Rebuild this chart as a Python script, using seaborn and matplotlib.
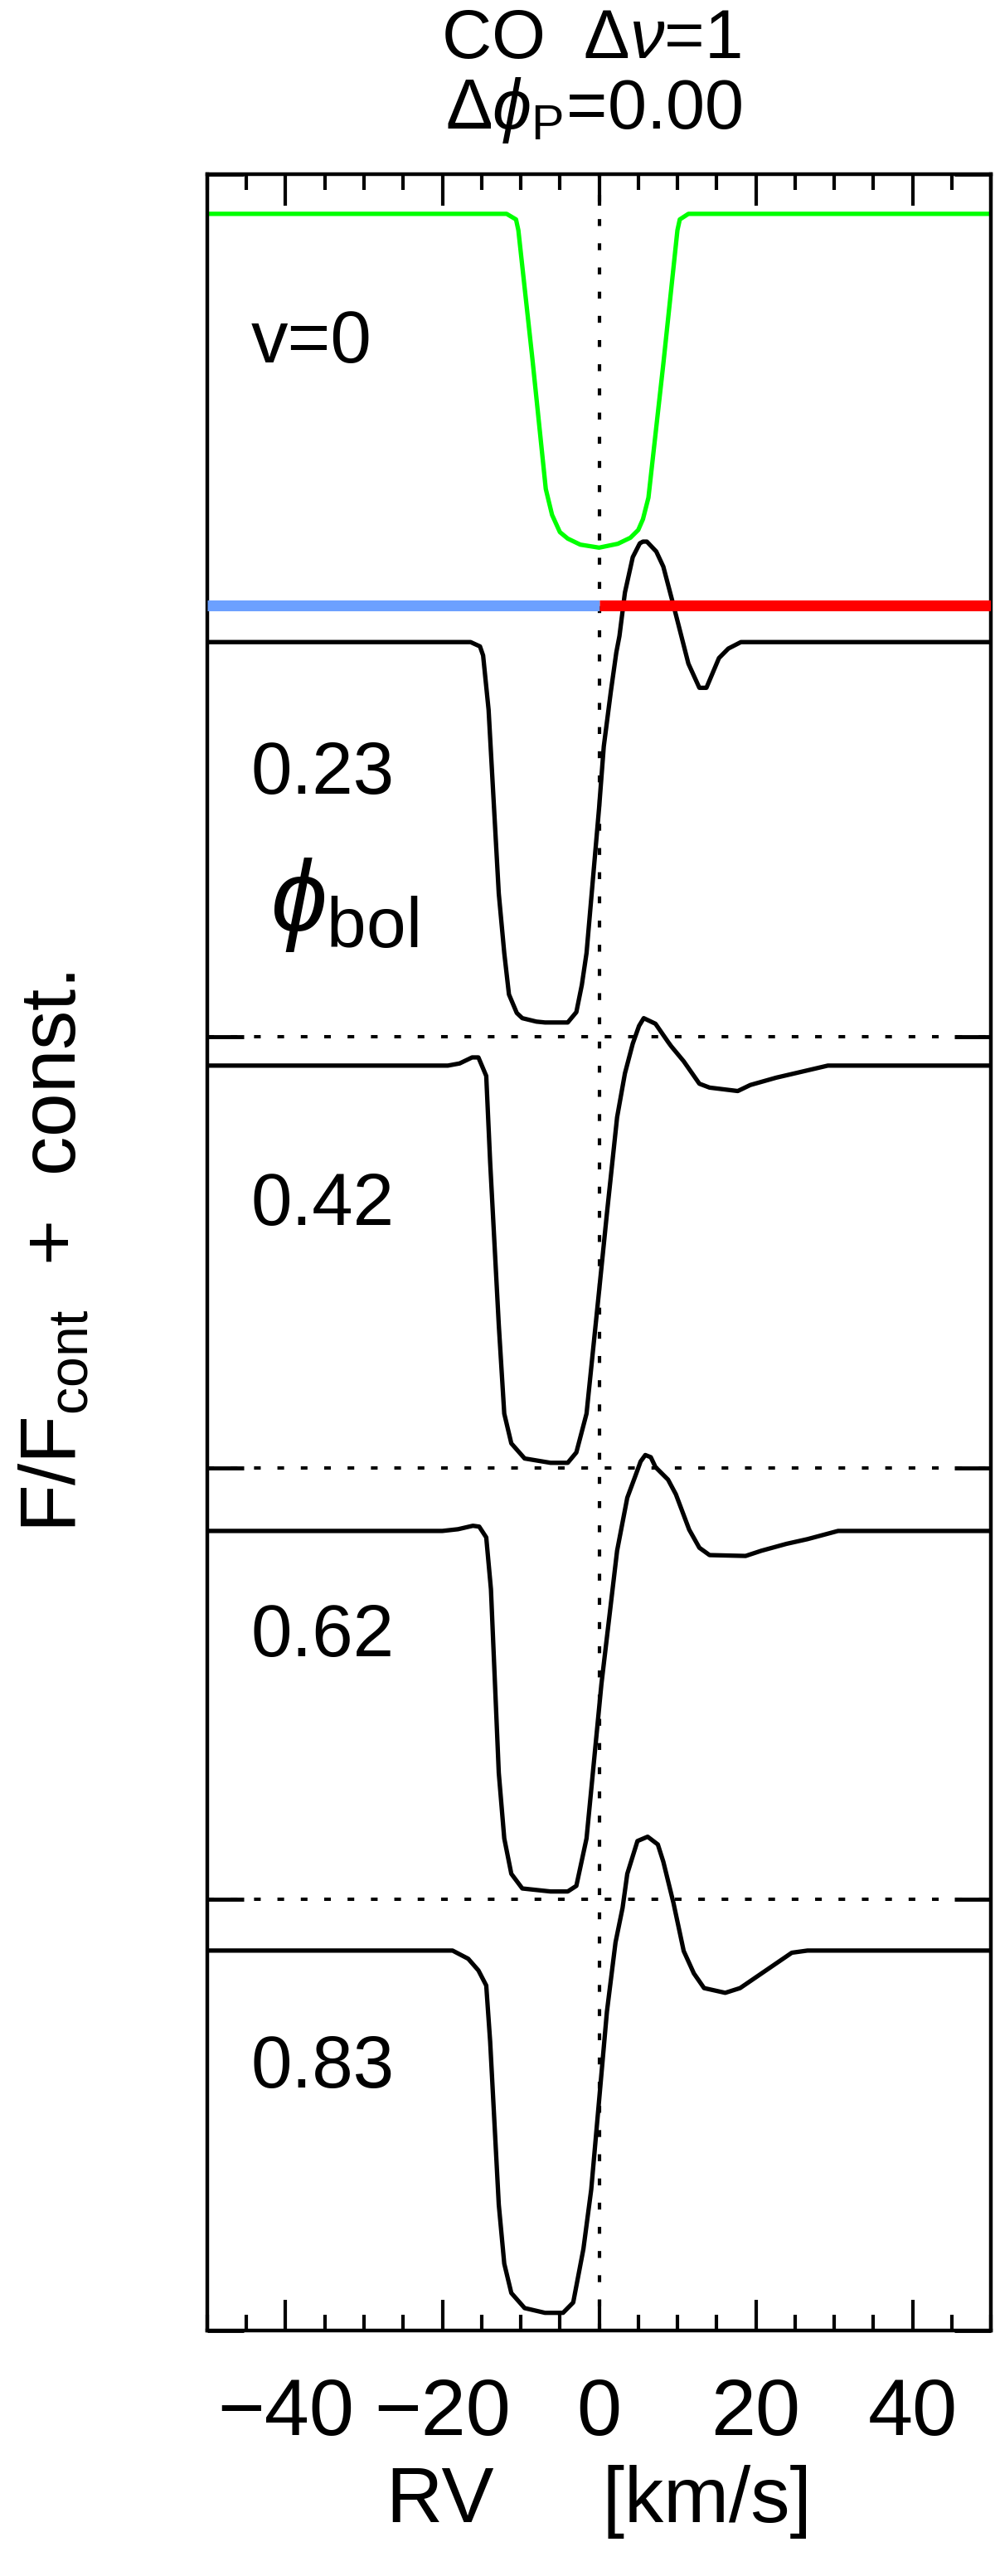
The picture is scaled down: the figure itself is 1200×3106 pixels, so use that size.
import matplotlib
matplotlib.use("Agg")
import matplotlib.pyplot as plt
from matplotlib.ticker import MultipleLocator
import seaborn as sns
import pandas as pd

# values: RV [km/s] and F/Fcont + const.
rv_v0 = [-50, -11.8, -10.6, -10.3, -8.5, -6.8, -6.0, -5.0, -4.0, -2.4, 0.0,
         2.4, 4.0, 5.0, 5.6, 6.3, 8.2, 10.0, 10.3, 11.4, 50]
fl_v0 = [4.908, 4.908, 4.895, 4.870, 4.570, 4.270, 4.210, 4.170, 4.155, 4.141, 4.134,
         4.143, 4.157, 4.175, 4.200, 4.250, 4.560, 4.870, 4.895, 4.908, 4.908]

rv_023 = [-50, -16.4, -15.2, -14.8, -14.1, -12.8, -12.1, -11.5, -10.5, -9.8, -8.0,
          -6.9, -4.0, -2.9, -2.2, -1.6, 0.0, 0.6, 1.5, 2.2, 2.6, 3.3, 4.3, 5.2,
          5.6, 6.1, 7.3, 8.2, 9.6, 11.4, 12.8, 13.7, 15.3, 16.5, 18.1, 50]
fl_023 = [3.915, 3.915, 3.905, 3.884, 3.758, 3.332, 3.194, 3.098, 3.055, 3.043, 3.035,
          3.033, 3.033, 3.057, 3.120, 3.194, 3.530, 3.673, 3.800, 3.891, 3.929, 4.030, 4.112, 4.144,
          4.148, 4.148, 4.125, 4.090, 3.993, 3.865, 3.809, 3.809, 3.878, 3.900, 3.915, 3.915]

rv_042 = [-50, -19.3, -17.8, -16.2, -15.4, -14.4, -13.9, -12.8, -12.1, -11.2, -9.5,
          -6.2, -4.0, -2.9, -1.6, 0.0, 1.0, 2.3, 3.3, 4.3, 5.1, 5.7, 7.2, 8.8, 9.2,
          10.8, 12.8, 14.1, 17.7, 19.3, 22.6, 25.2, 29.2, 50]
fl_042 = [2.933, 2.933, 2.938, 2.952, 2.952, 2.909, 2.709, 2.332, 2.126, 2.057, 2.022,
          2.012, 2.012, 2.036, 2.126, 2.410, 2.590, 2.813, 2.915, 2.984, 3.025, 3.043, 3.030, 2.988, 2.978,
          2.943, 2.891, 2.882, 2.874, 2.888, 2.905, 2.916, 2.933, 2.933]

rv_062 = [-50, -20.0, -18.0, -16.1, -15.3, -14.4, -13.8, -12.8, -12.1, -11.2, -9.8,
          -6.2, -4.0, -2.9, -1.6, 0.3, 2.3, 3.6, 4.6, 5.3, 5.9, 6.6, 7.2, 8.8, 9.8,
          11.5, 12.8, 14.1, 18.7, 20.7, 23.9, 26.6, 30.5, 50]
fl_062 = [1.854, 1.854, 1.858, 1.866, 1.864, 1.839, 1.719, 1.293, 1.141, 1.059, 1.025,
          1.018, 1.018, 1.031, 1.141, 1.499, 1.808, 1.931, 1.980, 2.015, 2.030, 2.025, 2.002, 1.973, 1.939,
          1.857, 1.815, 1.798, 1.796, 1.808, 1.824, 1.835, 1.854, 1.854]

rv_083 = [-50, -18.7, -16.7, -15.4, -14.4, -13.9, -12.8, -12.1, -11.2, -9.5, -6.9,
          -4.6, -3.3, -2.0, -1.0, 0.0, 1.0, 2.1, 3.0, 3.6, 4.9, 6.2, 7.5, 8.2, 9.5,
          10.8, 12.1, 13.4, 16.1, 18.0, 21.3, 24.6, 26.6, 50]
fl_083 = [0.881, 0.881, 0.862, 0.835, 0.800, 0.670, 0.292, 0.155, 0.087, 0.052, 0.041,
          0.041, 0.065, 0.189, 0.327, 0.533, 0.739, 0.900, 0.980, 1.059, 1.135, 1.145, 1.127, 1.087, 0.991,
          0.880, 0.828, 0.794, 0.783, 0.794, 0.835, 0.876, 0.881, 0.881]

phase_labels = ["0.23", "0.42", "0.62", "0.83"]
phase_offsets = [3, 2, 1, 0]
separators = [1, 2, 3]
blue_rv = [-50, 0]
red_rv = [0, 50]
split_level = 4

sns.set_style("ticks")
plt.rcParams['font.family'] = ['Liberation Sans', 'DejaVu Sans']
plt.rcParams['mathtext.fontset'] = 'custom'
plt.rcParams['mathtext.rm'] = 'Liberation Sans'
plt.rcParams['mathtext.it'] = 'Liberation Sans:italic'
plt.rcParams['mathtext.bf'] = 'Liberation Sans:bold'
# seaborn greys the text, the original is plain black
for key in ['text.color', 'axes.labelcolor', 'xtick.color', 'ytick.color', 'axes.edgecolor']:
    plt.rcParams[key] = 'black'

fig = plt.figure(figsize=(12, 31.06), dpi=100)
ax = fig.add_axes([250 / 1200, 1 - 2810 / 3106, 945 / 1200, 2600 / 3106])

LW = 3.8
sns.lineplot(x=rv_v0, y=fl_v0, ax=ax, color='#00ff00', lw=LW, sort=False, estimator=None)
profiles = [(rv_023, fl_023), (rv_042, fl_042), (rv_062, fl_062), (rv_083, fl_083)]
for rv, fl in profiles:
    sns.lineplot(x=rv, y=fl, ax=ax, color='k', lw=LW, sort=False, estimator=None)

# blue/red split line under the v=0 panel
ax.plot(blue_rv, [split_level] * 2, color='#6ca0ff', lw=9.4, solid_capstyle='butt', zorder=5)
ax.plot(red_rv, [split_level] * 2, color='#ff0000', lw=9.4, solid_capstyle='butt', zorder=5)

dots = (0, (2, 5))
for s in separators:
    ax.axhline(s, color='k', lw=2.9, ls=dots, zorder=1)
ax.axvline(0, color='k', lw=3.0, ls=dots, zorder=1)

# panel labels
ax.text(-44.4, 4.564, "v=0", fontsize=64, ha='left', va='baseline')
for lab, off in zip(phase_labels, phase_offsets):
    ax.text(-44.4, off + 0.564, lab, fontsize=64, ha='left', va='baseline')
ax.text(-42.0, 3.245, r"$\phi_{\mathrm{bol}}$", fontsize=88, ha='left', va='baseline')

ax.set_xlim(-50, 50)
ax.set_ylim(0, 5)
ax.set_xticks([-40, -20, 0, 20, 40])
ax.xaxis.set_minor_locator(MultipleLocator(5))
ax.set_yticks([0, 1, 2, 3, 4, 5])
ax.tick_params(axis='x', which='major', direction='in', length=27, width=3,
               top=True, bottom=True, labelsize=70, pad=40)
ax.tick_params(axis='x', which='minor', direction='in', length=13.5, width=3,
               top=True, bottom=True)
ax.tick_params(axis='y', which='major', direction='in', length=31.5, width=3.5,
               left=True, right=True, labelleft=False)
for sp in ax.spines.values():
    sp.set_linewidth(3.2)
    sp.set_color('k')

ax.set_xlabel("RV     [km/s]", fontsize=68, labelpad=12)
ax.set_ylabel(r"F/F$_{\mathrm{cont}}$  +  const.", fontsize=68, labelpad=100)

fig.text(0.594, 1 - 70 / 3106, r"CO  $\Delta\nu$=1", fontsize=60, ha='center', va='baseline')
fig.text(0.597, 1 - 155 / 3106, r"$\Delta\phi_{\mathrm{P}}$=0.00", fontsize=61, ha='center', va='baseline')

fig.savefig("out.png", dpi=100)
